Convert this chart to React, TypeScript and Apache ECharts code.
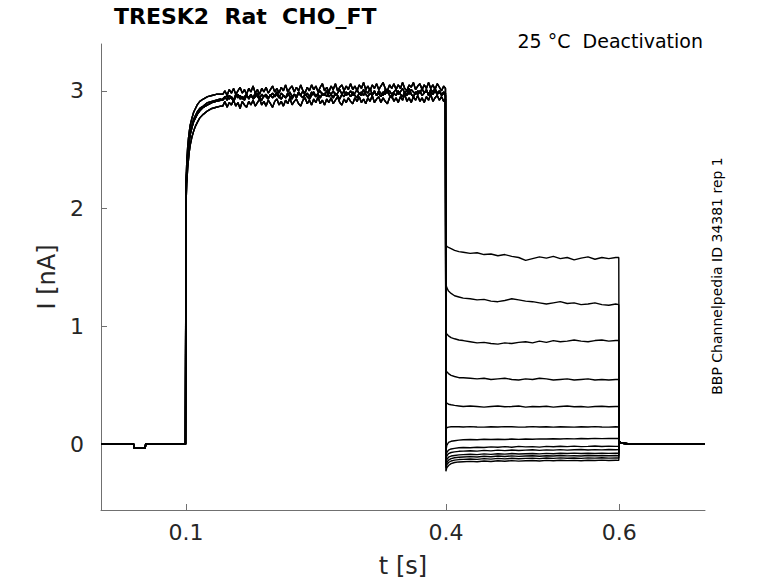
import React, { useEffect, useRef } from "react";
import * as echarts from "echarts";

const FONT = '"DejaVu Sans", sans-serif';

const xTicks = [0.1, 0.4, 0.6];
const yTicks = [0, 1, 2, 3];

// holding segment (common to all sweeps)
const holdT = [0.002, 0.04, 0.0405, 0.053, 0.0535, 0.0995];
const holdI = [0, 0, -0.035, -0.035, 0, 0];

// activation step: time points
const actT = [
  0.1, 0.1005, 0.101, 0.102, 0.103, 0.104, 0.105, 0.107, 0.109, 0.111, 0.113, 0.116, 0.12, 0.125, 0.13, 0.135, 0.14,
  0.1425, 0.145, 0.1475, 0.15, 0.1525, 0.155, 0.1575, 0.16, 0.1625, 0.165,
  0.1675, 0.17, 0.1725, 0.175, 0.1775, 0.18, 0.1825, 0.185, 0.1875, 0.19,
  0.1925, 0.195, 0.1975, 0.2, 0.2025, 0.205, 0.2075, 0.21, 0.2125, 0.215,
  0.2175, 0.22, 0.2225, 0.225, 0.2275, 0.23, 0.2325, 0.235, 0.2375, 0.24,
  0.2425, 0.245, 0.2475, 0.25, 0.2525, 0.255, 0.2575, 0.26, 0.2625, 0.265,
  0.2675, 0.27, 0.2725, 0.275, 0.2775, 0.28, 0.2825, 0.285, 0.2875, 0.29,
  0.2925, 0.295, 0.2975, 0.3, 0.3025, 0.305, 0.3075, 0.31, 0.3125, 0.315,
  0.3175, 0.32, 0.3225, 0.325, 0.3275, 0.33, 0.3325, 0.335, 0.3375, 0.34,
  0.3425, 0.345, 0.3475, 0.35, 0.3525, 0.355, 0.3575, 0.36, 0.3625, 0.365,
  0.3675, 0.37, 0.3725, 0.375, 0.3775, 0.38, 0.3825, 0.385, 0.3875, 0.39,
  0.3925, 0.395, 0.3975,
  0.3995,
];
// activation current of the overlapping sweeps (four recorded variants)
const actA = [
  2.1, 2.22, 2.32, 2.44, 2.52, 2.58, 2.63, 2.69, 2.74, 2.77, 2.8, 2.83, 2.86, 2.88, 2.9, 2.91, 2.92,
  2.93, 2.95, 2.92, 2.96, 2.94, 2.91, 2.95, 2.97, 2.93, 2.95,
  2.92, 2.96, 2.94, 2.97, 2.93, 2.95, 2.98, 2.94, 2.92, 2.96,
  2.95, 2.93, 2.97, 2.94, 2.96, 2.99, 2.95, 2.93, 2.96, 2.94,
  2.98, 2.95, 2.93, 2.97, 2.95, 2.99, 2.96, 2.94, 2.97, 2.95,
  2.93, 2.96, 2.99, 2.95, 2.97, 2.94, 2.98, 2.96, 3.0, 2.95,
  2.97, 2.94, 2.98, 2.96, 2.93, 2.97, 3.0, 2.96, 2.98, 2.95,
  2.99, 2.96, 2.94, 2.98, 2.96, 3.01, 2.97, 2.95, 2.98, 2.96,
  3.0, 2.96, 2.98, 2.95, 2.99, 2.97, 3.01, 2.96, 2.94, 2.98,
  2.96, 3.0, 2.97, 2.95, 2.99, 2.96, 3.02, 2.97, 2.95, 2.99,
  2.97, 3.0, 2.96, 2.98, 3.01, 2.96, 2.99, 2.97, 3.0, 2.97,
  2.99, 2.96, 2.98,
  2.96,
];
const actB = [
  2.0, 2.12, 2.22, 2.34, 2.42, 2.49, 2.54, 2.61, 2.66, 2.7, 2.73, 2.77, 2.8, 2.83, 2.85, 2.86, 2.87,
  2.87, 2.91, 2.86, 2.9, 2.88, 2.92, 2.87, 2.9, 2.85, 2.91,
  2.88, 2.86, 2.91, 2.88, 2.92, 2.87, 2.9, 2.93, 2.88, 2.91,
  2.87, 2.92, 2.89, 2.86, 2.91, 2.93, 2.88, 2.91, 2.87, 2.92,
  2.89, 2.94, 2.88, 2.91, 2.93, 2.89, 2.87, 2.92, 2.94, 2.89,
  2.92, 2.88, 2.93, 2.9, 2.95, 2.89, 2.92, 2.88, 2.93, 2.9,
  2.94, 2.89, 2.92, 2.95, 2.9, 2.88, 2.93, 2.9, 2.94, 2.91,
  2.89, 2.94, 2.91, 2.95, 2.9, 2.93, 2.89, 2.94, 2.91, 2.96,
  2.9, 2.93, 2.95, 2.9, 2.94, 2.91, 2.89, 2.94, 2.96, 2.91,
  2.94, 2.9, 2.95, 2.92, 2.97, 2.91, 2.94, 2.9, 2.95, 2.92,
  2.96, 2.91, 2.94, 2.9, 2.95, 2.92, 2.97, 2.91, 2.94, 2.96,
  2.92, 2.95, 2.91,
  2.93,
];
const actC = [
  2.18, 2.3, 2.4, 2.52, 2.6, 2.66, 2.71, 2.77, 2.82, 2.85, 2.88, 2.91, 2.93, 2.95, 2.96, 2.97, 2.97,
  2.97, 3.0, 2.96, 3.01, 2.98, 3.02, 2.97, 3.0, 3.03, 2.98,
  3.01, 2.97, 3.02, 2.99, 3.04, 2.98, 3.01, 2.97, 3.02, 2.99,
  3.03, 2.98, 3.01, 3.04, 2.99, 3.02, 2.98, 3.03, 3.0, 3.05,
  2.99, 3.02, 3.04, 2.99, 3.03, 3.0, 3.05, 3.0, 2.98, 3.03,
  3.0, 3.05, 3.01, 3.04, 2.99, 3.03, 3.06, 3.0, 3.03, 2.99,
  3.04, 3.01, 3.06, 3.0, 3.03, 3.05, 3.0, 3.04, 3.01, 3.06,
  3.01, 3.04, 3.0, 3.05, 3.02, 3.07, 3.01, 3.04, 3.0, 3.05,
  3.02, 3.06, 3.01, 3.04, 3.07, 3.02, 3.0, 3.05, 3.02, 3.06,
  3.01, 3.05, 3.02, 3.07, 3.02, 3.0, 3.05, 3.03, 3.07, 3.01,
  3.04, 3.06, 3.01, 3.05, 3.02, 3.07, 3.02, 3.05, 3.01, 3.06,
  3.03, 3.0, 3.04,
  3.02,
];
const actD = [
  2.12, 2.24, 2.34, 2.46, 2.54, 2.6, 2.65, 2.71, 2.76, 2.79, 2.82, 2.85, 2.87, 2.9, 2.91, 2.92, 2.93,
  2.92, 2.94, 2.96, 2.93, 2.95, 2.92, 2.97, 2.94, 2.96, 2.93,
  2.95, 2.97, 2.93, 2.96, 2.94, 2.98, 2.95, 2.93, 2.97, 2.95,
  2.97, 2.94, 2.96, 2.98, 2.95, 2.97, 2.94, 2.98, 2.96, 2.94,
  2.96, 2.99, 2.95, 2.97, 2.94, 2.98, 2.96, 3.0, 2.96, 2.98,
  2.95, 2.99, 2.97, 2.95, 2.98, 3.0, 2.96, 2.98, 2.95, 2.99,
  2.97, 3.0, 2.96, 2.98, 3.01, 2.97, 2.95, 2.99, 2.97, 3.0,
  2.96, 2.98, 3.01, 2.97, 2.99, 2.96, 3.0, 2.98, 3.02, 2.97,
  2.99, 2.96, 3.0, 2.98, 2.96, 3.01, 2.98, 3.0, 2.97, 2.99,
  3.01, 2.97, 2.99, 3.02, 2.98, 3.0, 2.97, 3.01, 2.99, 2.97,
  3.0, 2.98, 3.02, 2.98, 3.0, 2.97, 3.01, 2.99, 3.02, 2.98,
  3.0, 2.97, 2.99,
  2.98,
];
const actVariants = [actA, actB, actC, actD];

// deactivation (tail) segment
const tailT = [
  0.4, 0.401, 0.403, 0.406, 0.41, 0.415, 0.42, 0.428, 0.436, 0.444, 0.452, 0.46, 0.468, 0.476, 0.484,
  0.492, 0.5, 0.508, 0.516, 0.524, 0.532, 0.54, 0.548, 0.556, 0.564, 0.572, 0.58, 0.588, 0.596, 0.5995,
];
const tail1 = [1.69, 1.68, 1.67, 1.66, 1.645, 1.635, 1.63, 1.62, 1.625, 1.61, 1.615, 1.6, 1.61, 1.595, 1.585, 1.56, 1.575, 1.59, 1.58, 1.595, 1.575, 1.585, 1.565, 1.58, 1.59, 1.57, 1.585, 1.575, 1.585, 1.585];
const tail2 = [1.36, 1.33, 1.3, 1.28, 1.26, 1.25, 1.24, 1.235, 1.225, 1.23, 1.215, 1.21, 1.22, 1.235, 1.225, 1.215, 1.21, 1.2, 1.19, 1.2, 1.21, 1.195, 1.2, 1.185, 1.19, 1.2, 1.185, 1.18, 1.19, 1.185];
const tail3 = [0.95, 0.935, 0.92, 0.905, 0.895, 0.885, 0.88, 0.87, 0.86, 0.865, 0.855, 0.85, 0.86, 0.855, 0.865, 0.87, 0.86, 0.875, 0.865, 0.88, 0.87, 0.875, 0.885, 0.875, 0.87, 0.88, 0.885, 0.875, 0.88, 0.88];
const tail4 = [0.63, 0.615, 0.6, 0.585, 0.575, 0.565, 0.565, 0.56, 0.555, 0.56, 0.55, 0.555, 0.56, 0.55, 0.545, 0.555, 0.55, 0.56, 0.555, 0.545, 0.55, 0.555, 0.545, 0.55, 0.555, 0.545, 0.55, 0.545, 0.55, 0.55];
const tail5 = [0.36, 0.35, 0.34, 0.335, 0.33, 0.325, 0.32, 0.325, 0.32, 0.315, 0.32, 0.325, 0.318, 0.32, 0.325, 0.315, 0.32, 0.318, 0.322, 0.315, 0.32, 0.325, 0.318, 0.32, 0.315, 0.32, 0.322, 0.318, 0.32, 0.32];
const tail6 = [0.13, 0.14, 0.145, 0.148, 0.15, 0.148, 0.146, 0.15, 0.147, 0.145, 0.149, 0.146, 0.15, 0.148, 0.145, 0.147, 0.15, 0.146, 0.148, 0.145, 0.149, 0.147, 0.145, 0.148, 0.146, 0.15, 0.147, 0.145, 0.148, 0.147];
const tail7 = [-0.06, -0.01, 0.015, 0.025, 0.03, 0.035, 0.038, 0.04, 0.038, 0.042, 0.04, 0.043, 0.04, 0.044, 0.041, 0.045, 0.043, 0.046, 0.044, 0.047, 0.045, 0.048, 0.046, 0.049, 0.047, 0.05, 0.048, 0.05, 0.049, 0.05];
const tail8 = [-0.1, -0.07, -0.05, -0.04, -0.035, -0.03, -0.028, -0.03, -0.025, -0.028, -0.022, -0.026, -0.02, -0.025, -0.018, -0.022, -0.02, -0.024, -0.018, -0.021, -0.017, -0.02, -0.016, -0.02, -0.018, -0.015, -0.019, -0.016, -0.018, -0.017];
const tail9 = [-0.13, -0.1, -0.08, -0.07, -0.065, -0.06, -0.058, -0.055, -0.058, -0.052, -0.056, -0.05, -0.054, -0.049, -0.053, -0.05, -0.047, -0.052, -0.048, -0.05, -0.046, -0.05, -0.047, -0.045, -0.049, -0.046, -0.048, -0.045, -0.047, -0.046];
const tail10 = [-0.16, -0.13, -0.11, -0.1, -0.095, -0.09, -0.088, -0.085, -0.088, -0.082, -0.086, -0.08, -0.084, -0.079, -0.083, -0.08, -0.078, -0.082, -0.077, -0.08, -0.076, -0.079, -0.075, -0.078, -0.076, -0.079, -0.075, -0.077, -0.076, -0.076];
const tail11 = [-0.18, -0.155, -0.135, -0.122, -0.115, -0.11, -0.108, -0.105, -0.108, -0.102, -0.106, -0.1, -0.104, -0.099, -0.103, -0.1, -0.097, -0.102, -0.098, -0.1, -0.096, -0.099, -0.097, -0.1, -0.096, -0.098, -0.095, -0.098, -0.096, -0.097];
const tail12 = [-0.2, -0.175, -0.155, -0.142, -0.135, -0.13, -0.128, -0.125, -0.128, -0.122, -0.126, -0.12, -0.124, -0.119, -0.123, -0.12, -0.118, -0.122, -0.117, -0.12, -0.116, -0.119, -0.117, -0.12, -0.116, -0.118, -0.115, -0.118, -0.116, -0.117];
const tail13 = [-0.23, -0.2, -0.18, -0.165, -0.155, -0.15, -0.148, -0.145, -0.148, -0.142, -0.146, -0.14, -0.144, -0.139, -0.143, -0.14, -0.138, -0.142, -0.137, -0.14, -0.136, -0.139, -0.137, -0.14, -0.136, -0.138, -0.135, -0.138, -0.136, -0.137];
const tails = [tail1, tail2, tail3, tail4, tail5, tail6, tail7, tail8, tail9, tail10, tail11, tail12, tail13];

// return to holding potential
const postT = [0.6, 0.601, 0.604, 0.61, 0.62, 0.635, 0.65, 0.665, 0.68, 0.699];
const postI = [0.03, 0.015, 0.008, 0.004, 0.002, 0.0, 0.003, -0.001, 0.002, 0.0];

function pairs(t: number[], v: number[]) {
  return t.map((x, i) => [x, v[i]]);
}

function buildSweep(k: number) {
  return [
    ...pairs(holdT, holdI),
    ...pairs(actT, actVariants[k % actVariants.length]),
    ...pairs(tailT, tails[k]),
    ...pairs(postT, postI),
  ];
}

const AXIS_COLOR = "#707070";
const TEXT_COLOR = "#262626";

export default function App() {
  const ref = useRef<HTMLDivElement>(null);
  useEffect(() => {
    const chart = echarts.init(ref.current!, null, { renderer: "svg" });
    const series = tails.map((_, k) => ({
      type: "line",
      data: buildSweep(k),
      showSymbol: false,
      symbol: "none",
      silent: true,
      lineStyle: { color: "#000", width: 1.4 },
      z: 2,
    }));
    chart.setOption({
      animation: false,
      backgroundColor: "#fff",
      grid: { left: 101, top: 44, width: 604, height: 468, containLabel: false },
      xAxis: {
        type: "value",
        min: 0.002,
        max: 0.699,
        axisLine: { show: true, onZero: false, lineStyle: { color: AXIS_COLOR, width: 1 } },
        axisTick: { show: true, inside: true, length: 6, customValues: xTicks, lineStyle: { color: AXIS_COLOR } },
        axisLabel: {
          customValues: xTicks,
          formatter: (v: number) => v.toFixed(1),
          color: TEXT_COLOR,
          fontSize: 22,
          fontFamily: FONT,
          margin: 11,
        },
        splitLine: { show: false },
        name: "t [s]",
        nameLocation: "middle",
        nameGap: 44,
        nameTextStyle: { fontSize: 24, color: TEXT_COLOR, fontFamily: FONT },
      },
      yAxis: {
        type: "value",
        min: -0.558,
        max: 3.397,
        axisLine: { show: true, onZero: false, lineStyle: { color: AXIS_COLOR, width: 1 } },
        axisTick: { show: true, inside: true, length: 6, customValues: yTicks, lineStyle: { color: AXIS_COLOR } },
        axisLabel: {
          customValues: yTicks,
          formatter: (v: number) => String(v),
          color: TEXT_COLOR,
          fontSize: 22,
          fontFamily: FONT,
          margin: 17,
        },
        splitLine: { show: false },
        name: "I [nA]",
        nameLocation: "middle",
        nameGap: 41,
        nameRotate: 90,
        nameTextStyle: { fontSize: 24, color: TEXT_COLOR, fontFamily: FONT },
      },
      graphic: [
        {
          type: "text",
          x: 114,
          y: 16,
          style: {
            text: "TRESK2  Rat  CHO_FT",
            font: `bold 22px ${FONT}`,
            fill: "#000",
            textAlign: "left",
            textVerticalAlign: "middle",
          },
        },
        {
          type: "text",
          x: 703,
          y: 41,
          style: {
            text: "25 °C  Deactivation",
            font: `19px ${FONT}`,
            fill: "#000",
            textAlign: "right",
            textVerticalAlign: "middle",
          },
        },
        {
          type: "text",
          x: 717,
          y: 276,
          rotation: Math.PI / 2,
          style: {
            text: "BBP Channelpedia ID 34381 rep 1",
            font: `14px ${FONT}`,
            fill: "#000",
            textAlign: "center",
            textVerticalAlign: "middle",
          },
        },
      ],
      series,
    });
    return () => chart.dispose();
  }, []);
  return (
    <div
      ref={ref}
      style={{ position: "fixed", left: 0, top: 0, width: 778, height: 583, background: "#fff" }}
    />
  );
}
